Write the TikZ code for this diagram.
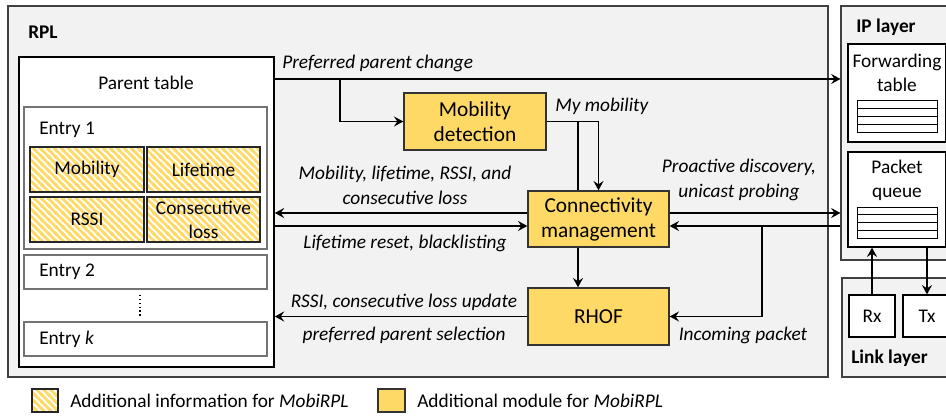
\documentclass[tikz,border=0pt]{standalone}
\usepackage{fontspec}
\setmainfont{Carlito}
\usepackage{xcolor}
\usepackage{tikz}
\usetikzlibrary{calc,fit,arrows.meta,patterns}

\definecolor{panelgray}{HTML}{F2F2F2}
\definecolor{modyellow}{HTML}{FFD966}

% diagonal stripes, top left to bottom right
\pgfdeclarepatternformonly{infostripes}{\pgfqpoint{-1pt}{-1pt}}{\pgfqpoint{6.25pt}{6.25pt}}{\pgfqpoint{5.25pt}{5.25pt}}{%
  \pgfsetlinewidth{1.9pt}%
  \pgfpathmoveto{\pgfqpoint{0pt}{5.25pt}}\pgfpathlineto{\pgfqpoint{5.25pt}{0pt}}%
  \pgfpathmoveto{\pgfqpoint{-1pt}{1pt}}\pgfpathlineto{\pgfqpoint{1pt}{-1pt}}%
  \pgfpathmoveto{\pgfqpoint{4.25pt}{6.25pt}}\pgfpathlineto{\pgfqpoint{6.25pt}{4.25pt}}%
  \pgfusepath{stroke}}

\tikzset{
  panel/.style={draw=black!75, fill=panelgray, line width=0.8pt, inner sep=0pt},
  boxw/.style={draw=black, fill=white, line width=0.9pt, inner sep=0pt},
  entrybox/.style={draw=black!55, fill=white, line width=1pt, inner sep=0pt},
  module/.style={draw=black!80, fill=modyellow, line width=1pt, inner sep=0pt},
  modtext/.style={inner sep=0.75pt, align=center, font=\fontsize{16}{18.75}\selectfont},
  hatched/.style={draw=black!85, line width=0.8pt, inner sep=0pt, preaction={fill=white}, pattern=infostripes, pattern color=modyellow},
  lbl/.style={inner sep=0.75pt, align=center, font=\fontsize{14.5}{18.75}\selectfont\itshape},
  arr/.style={line width=1.2pt, -{Stealth[length=7pt,width=7.5pt,inset=2.5pt]}},
  wire/.style={line width=1.2pt},
}

\begin{document}
\begin{tikzpicture}[x=0.75pt,y=0.75pt,yscale=-1,xscale=1,font=\fontsize{14.5}{18}\selectfont]
\useasboundingbox (0,0) rectangle (946,416);

%Shape: Rectangle [panels]
\node[panel, fit={(8,6) (828,377)}] (rpl) {};
\node[panel, fit={(841,6) (952,260)}] (iplayer) {};
\node[panel, fit={(842,278) (952,377)}] (linklayer) {};

% Text Node
\node [anchor=west][inner sep=0.75pt] (rpltxt) at (27,32) {\textbf{RPL}};
% Text Node
\node [anchor=west][inner sep=0.75pt] (iptxt) at (855,27) {\textbf{IP layer}};
% Text Node
\node [anchor=west][inner sep=0.75pt] (linktxt) at (850,358) {\textbf{Link layer}};

%Shape: Rectangle [parent table]
\node[boxw, line width=1.2pt, fit={(19,57) (274,367)}] (ptab) {};
\node [inner sep=0.75pt] (ptabtxt) at (146,83) {Parent table};
\node[entrybox, fit={(24,107) (267,249)}] (ent1) {};
\node [anchor=west][inner sep=0.75pt] (ent1txt) at (38,130) {Entry 1};
\node[hatched, fit={(30,147) (144,192)}] (cmob) {};
\node[hatched, fit={(147,147) (260,192)}] (clife) {};
\node[hatched, fit={(30,197) (144,242)}] (crssi) {};
\node[hatched, fit={(147,197) (260,242)}] (closs) {};
\node [inner sep=0.75pt] (cmobtxt) at (cmob.center) {Mobility};
\node [inner sep=0.75pt] (clifetxt) at (clife.center) {Lifetime};
\node [inner sep=0.75pt] (crssitxt) at (crssi.center) {RSSI};
\node [inner sep=0.75pt, align=center] (closstxt) at (closs.center) {Consecutive\\loss};
\node[entrybox, fit={(24,255) (267,289)}] (ent2) {};
\node [anchor=west][inner sep=0.75pt] (ent2txt) at (38,272) {Entry 2};
\draw [dotted, line width=0.9pt] (140,295) -- (140,317);
\node[entrybox, fit={(24,322) (267,356)}] (entk) {};
\node [anchor=west][inner sep=0.75pt] (entktxt) at (38,339) {Entry \textit{k}};

%Shape: Rectangle [modules]
\node[module, fit={(404,93) (546,150)}] (mobdet) {};
\node[module, fit={(528,191) (669,247)}] (conn) {};
\node[module, fit={(528,288) (669,345)}] (rhof) {};
\node [modtext] (mobdettxt) at (mobdet.center) {Mobility\\detection};
\node [modtext] (conntxt) at (conn.center) {Connectivity\\management};
\node [modtext] (rhoftxt) at (rhof.center) {RHOF};

%Shape: Rectangle [ip layer]
\node[boxw, fit={(848,44) (945.5,142)}] (fwd) {};
\node [align=center][inner sep=0.75pt] (fwdtxt) at (897,73) {Forwarding\\table};
\draw [line width=0.6pt] (857,100) rectangle (937,132);
\foreach \r in {108,116,124} \draw [line width=0.6pt] (857,\r) -- (937,\r);
\node[boxw, fit={(848,152) (945.5,247)}] (queue) {};
\node [align=center][inner sep=0.75pt] (queuetxt) at (897,180) {Packet\\queue};
\draw [line width=0.6pt] (857,207) rectangle (937,238);
\foreach \r in {214.75,222.5,230.25} \draw [line width=0.6pt] (857,\r) -- (937,\r);

%Shape: Rectangle [link layer]
\node[boxw, fit={(849,295) (895,337)}] (rx) {};
\node[boxw, fit={(903,295) (951,337)}] (tx) {};
\node [inner sep=0.75pt] (rxtxt) at (rx.center) {Rx};
\node [inner sep=0.75pt] (txtxt) at (tx.center) {Tx};

%Straight Lines
\coordinate (ppbr) at (340,79);
\coordinate (tap) at (578,121.5);
\coordinate (inbr) at (762,226);
\coordinate (lvla) at (0,213);
\coordinate (lvlb) at (0,226);

\draw [arr] (ptab.east |- ppbr) -- (iplayer.west |- ppbr);
\draw [arr] (ppbr) |- (mobdet.west);
\draw [arr] (mobdet.east) -| (conn.north);
\draw [wire] (tap) -- (tap |- conn.north);
\draw [arr] (tap |- conn.south) -- (tap |- rhof.north);
\draw [arr] (conn.west |- lvla) -- (ptab.east |- lvla);
\draw [arr] (ptab.east |- lvlb) -- (conn.west |- lvlb);
\draw [arr] (rhof.west) -- (ptab.east |- rhof.west);
\draw [arr] (conn.east |- lvla) -- (iplayer.west |- lvla);
\draw [arr] (iplayer.west |- inbr) -- (conn.east |- inbr);
\draw [arr] (inbr) |- (rhof.east);
\draw [arr] (rx.north) -- (rx.north |- queue.south);
\draw [arr] (queue.south -| tx.north) -- (tx.north);

% Text Node
\node [lbl, anchor=west] (lpp) at (281,63) {Preferred parent change};
% Text Node
\node [lbl, anchor=west] (lmy) at (554,106) {My mobility};
% Text Node
\node [lbl] (linfo) at (405,185.5) {Mobility, lifetime, RSSI, and\\consecutive loss};
% Text Node
\node [lbl] (lreset) at (405,243) {Lifetime reset, blacklisting};
% Text Node
\node [lbl] (lupd) at (404,302) {RSSI, consecutive loss update};
% Text Node
\node [lbl] (lsel) at (404,335) {preferred parent selection};
% Text Node
\node [lbl] (lpro) at (739,180) {Proactive discovery,\\unicast probing};
% Text Node
\node [lbl] (linc) at (743,335) {Incoming packet};

%Legend
\node[hatched, fit={(32,389) (58,412)}] (leginfo) {};
\node [anchor=west][inner sep=0.75pt] (leginfotxt) at (69,401) {Additional information for \textit{MobiRPL}};
\node[module, fit={(378,389) (405,412)}] (legmod) {};
\node [anchor=west][inner sep=0.75pt] (legmodtxt) at (416,401) {Additional module for \textit{MobiRPL}};

\end{tikzpicture}
\end{document}
